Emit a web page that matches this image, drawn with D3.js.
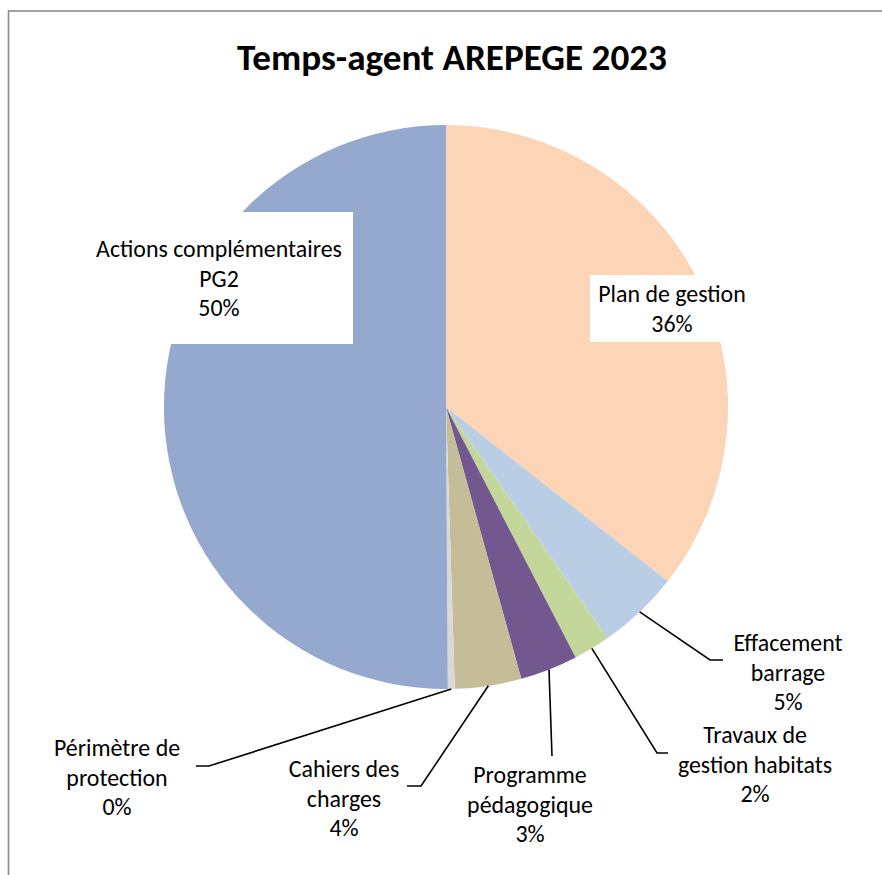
<!DOCTYPE html>
<html>
<head>
<meta charset="utf-8">
<script src="https://cdn.jsdelivr.net/npm/d3@7"></script>
<style>
  html, body { margin: 0; padding: 0; background: #fff; }
  svg { display: block; }
  text { font-family: Carlito, Lato, "Noto Sans", sans-serif; fill: #000; }
</style>
</head>
<body>
<div id="chart"></div>
<script>
// DATA
var categories = ["Plan de gestion", "Effacement barrage", "Travaux de gestion habitats",
    "Programme pédagogique", "Cahiers des charges", "Périmètre de protection",
    "Actions complémentaires PG2"];
var labelLines = [["Plan de gestion"], ["Effacement", "barrage"], ["Travaux de", "gestion habitats"],
    ["Programme", "pédagogique"], ["Cahiers des", "charges"], ["Périmètre de", "protection"],
    ["Actions complémentaires", "PG2"]];
var values = [35.6, 4.7, 2.1, 3.3, 3.8, 0.4, 50.1];
var colors = ["#FBD5B5", "#B9CDE5", "#C4D79B", "#72588F", "#C4BD97", "#D9D9D9", "#95A9CF"];
var title = "Temps-agent AREPEGE 2023";

// SIZING
var width = 882, height = 875;
var cx = 446, cy = 407, radius = 282;
var lineH = 29.5;

// label layout: text centre x, first baseline y, leader elbow and end (or white box for inside labels)
var labelLayout = [
    { x: 672, y: 302, box: [590, 275, 164, 67] },
    { x: 788, y: 651, elbow: [710, 660], end: [723, 660] },
    { x: 755, y: 743, elbow: [657, 753], end: [668, 753] },
    { x: 530, y: 783, elbow: [552, 756], end: [552, 756] },
    { x: 344, y: 777, elbow: [421, 786], end: [407, 786] },
    { x: 117, y: 756, elbow: [209, 766], end: [196, 766] },
    { x: 219, y: 257, box: [85, 212, 268, 132] }
];

var svg = d3.select("#chart").append("svg")
    .attr("width", width)
    .attr("height", height);

// chart frame
svg.append("rect")
    .attr("x", 8.5).attr("y", 11)
    .attr("width", 1000).attr("height", 1000)
    .attr("fill", "none")
    .attr("stroke", "#8a8a8a")
    .attr("stroke-width", 1.6);

// fit a font size to a target width
function fitSize(str, weight, target) {
    var t = svg.append("text").attr("font-size", 100).attr("font-weight", weight).text(str);
    var w = t.node().getComputedTextLength();
    t.remove();
    return 100 * target / w;
}
var titleSize = fitSize(title, "bold", 430);
var labelSize = fitSize("Actions complémentaires", "normal", 246);

svg.append("text")
    .attr("x", 452).attr("y", 70)
    .attr("text-anchor", "middle")
    .attr("font-weight", "bold")
    .attr("font-size", titleSize)
    .text(title);

// PIE
var pie = d3.pie().sort(null).value(function (d) { return d; });
var arcs = pie(values);
var arc = d3.arc().innerRadius(0).outerRadius(radius);

var g = svg.append("g").attr("transform", "translate(" + cx + "," + cy + ")");
g.selectAll("path.slice")
    .data(arcs)
    .enter().append("path")
    .attr("class", "slice")
    .attr("d", arc)
    .attr("fill", function (d, i) { return colors[i]; });

// leader lines
arcs.forEach(function (d, i) {
    var L = labelLayout[i];
    if (!L.elbow) return;
    var mid = (d.startAngle + d.endAngle) / 2;
    var sx = cx + radius * Math.sin(mid), sy = cy - radius * Math.cos(mid);
    svg.append("polyline")
        .attr("points", [[sx, sy], L.elbow, L.end].map(function (p) { return p.join(","); }).join(" "))
        .attr("fill", "none")
        .attr("stroke", "#000")
        .attr("stroke-width", 1.6);
});

// labels
var total = d3.sum(values);
arcs.forEach(function (d, i) {
    var L = labelLayout[i];
    if (L.box) {
        svg.append("rect")
            .attr("x", L.box[0]).attr("y", L.box[1])
            .attr("width", L.box[2]).attr("height", L.box[3])
            .attr("fill", "#fff");
    }
    var lines = labelLines[i].concat([Math.round(values[i] / total * 100) + "%"]);
    var t = svg.append("text")
        .attr("text-anchor", "middle")
        .attr("font-size", labelSize);
    lines.forEach(function (s, k) {
        t.append("tspan")
            .attr("x", L.x)
            .attr("y", L.y + k * lineH)
            .text(s);
    });
});
</script>
</body>
</html>
